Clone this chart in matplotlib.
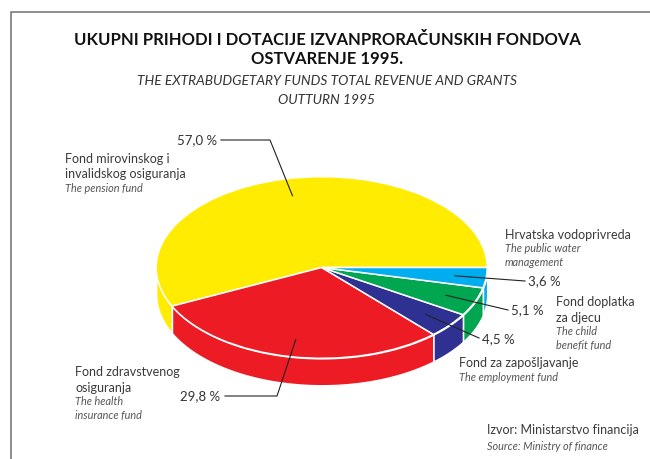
import numpy as np
import matplotlib
matplotlib.use("Agg")
import matplotlib.pyplot as plt
from matplotlib.transforms import Affine2D

plt.rcParams["font.family"] = ["Lato", "DejaVu Sans"]

# udjeli fondova (%), redom suprotno od kazaljke, od 0 stupnjeva
funds = ["mirovinsko", "zdravstveno", "zaposljavanje", "doplatak", "vodoprivreda"]
shares = [57.0, 29.8, 4.5, 5.1, 3.6]
pct_labels = ["57,0 %", "29,8 %", "4,5 %", "5,1 %", "3,6 %"]
colors = ["#FFEC00", "#ED1C24", "#2E3192", "#00A650", "#00AEEF"]

W, H = 650, 459
cx, cy = 321.7, 267.5      # centar elipse (px)
rx, ry = 165.5, 90.8       # poluosi
depth = 27                 # debljina "kolača"

fig = plt.figure(figsize=(6.5, 4.59), dpi=100)
ax = fig.add_axes([0, 0, 1, 1])

# gornja ploha preko ax.pie, spljoštena u elipsu
wedges, _ = ax.pie(shares, colors=colors, startangle=0, counterclock=True,
                   radius=rx, center=(0, 0),
                   wedgeprops=dict(edgecolor="white", linewidth=1.1))
flat = Affine2D().scale(1, -ry / rx).translate(cx, cy) + ax.transData
for w in wedges:
    w.set_transform(flat)
    w.set_zorder(3)

ax.set_xlim(0, W)
ax.set_ylim(H, 0)
ax.set_aspect("auto")
ax.axis("off")

# bočne stranice (samo prednja polovica, 180-360 stupnjeva)
ends = np.cumsum(shares) / 100 * 360
starts = ends - np.array(shares) / 100 * 360
for a1, a2, c in zip(starts, ends, colors):
    lo, hi = max(a1, 180), min(a2, 360)
    if hi <= lo:
        continue
    t = np.radians(np.linspace(lo, hi, 80))
    x = cx + rx * np.cos(t)
    ytop = cy - ry * np.sin(t)
    ax.fill_between(x, ytop, ytop + depth, facecolor=c, edgecolor="white",
                    linewidth=1.1, zorder=2)

# točke iz kojih kreću linije oznaka
mids = np.radians((starts + ends) / 2)
px = cx + 0.81 * rx * np.cos(mids)
py = cy - 0.81 * ry * np.sin(mids)

line_kw = dict(color="#222222", linewidth=0.8, zorder=4)
pct_kw = dict(va="center", fontsize=9.5, color="#333333")
# 57,0 %
ax.plot([px[0], 270, 221], [py[0], 140, 140], **line_kw)
ax.text(217, 140, pct_labels[0], ha="right", **pct_kw)
# 29,8 %
ax.plot([px[1], 277, 225], [py[1], 396, 396], **line_kw)
ax.text(220, 396, pct_labels[1], ha="right", **pct_kw)
# 4,5 %
ax.plot([px[2], 479], [py[2], 338], **line_kw)
ax.text(482, 339, pct_labels[2], ha="left", **pct_kw)
# 5,1 %
ax.plot([px[3], 508], [py[3], 310], **line_kw)
ax.text(511, 310, pct_labels[3], ha="left", **pct_kw)
# 3,6 %
ax.plot([px[4], 525], [py[4], 281], **line_kw)
ax.text(528, 281, pct_labels[4], ha="left", **pct_kw)

# nazivi fondova
def label(x, y, lines_hr, lines_en, dy=15.5, dy_en=14.5):
    yy = y
    for s in lines_hr:
        ax.text(x, yy, s, ha="left", va="center", fontsize=9.0, color="#3a3a3a")
        yy += dy
    yy -= dy - dy_en
    for s in lines_en:
        ax.text(x, yy, s, ha="left", va="center", fontsize=7.8,
                style="italic", color="#555555")
        yy += dy_en

label(65, 159, ["Fond mirovinskog i", "invalidskog osiguranja"], ["The pension fund"])
label(75, 372, ["Fond zdravstvenog", "osiguranja"], ["The health", "insurance fund"], dy_en=14)
label(505, 235, ["Hrvatska vodoprivreda"], ["The public water", "management"], dy_en=14)
label(556, 302, ["Fond doplatka", "za djecu"], ["The child", "benefit fund"], dy_en=14)
label(459, 363, ["Fond za zapošljavanje"], ["The employment fund"])
label(487, 430, ["Izvor: Ministarstvo financija"], ["Source: Ministry of finance"], dy_en=16)

# naslov
ax.text(327, 40, "UKUPNI PRIHODI I DOTACIJE IZVANPRORAČUNSKIH FONDOVA",
        ha="center", va="center", fontsize=12, fontweight="bold", color="#111111")
ax.text(327, 59, "OSTVARENJE 1995.", ha="center", va="center",
        fontsize=12, fontweight="bold", color="#111111")
ax.text(327, 81, "THE EXTRABUDGETARY FUNDS TOTAL REVENUE AND GRANTS",
        ha="center", va="center", fontsize=9.9, style="italic", color="#333333")
ax.text(327, 100, "OUTTURN 1995", ha="center", va="center",
        fontsize=9.9, style="italic", color="#333333")

# okvir (lijevo i gore)
ax.plot([11, 11, W], [H, 12, 12], color="#7a7a7a", linewidth=1.2, clip_on=False)

fig.savefig("out.png", dpi=100)
